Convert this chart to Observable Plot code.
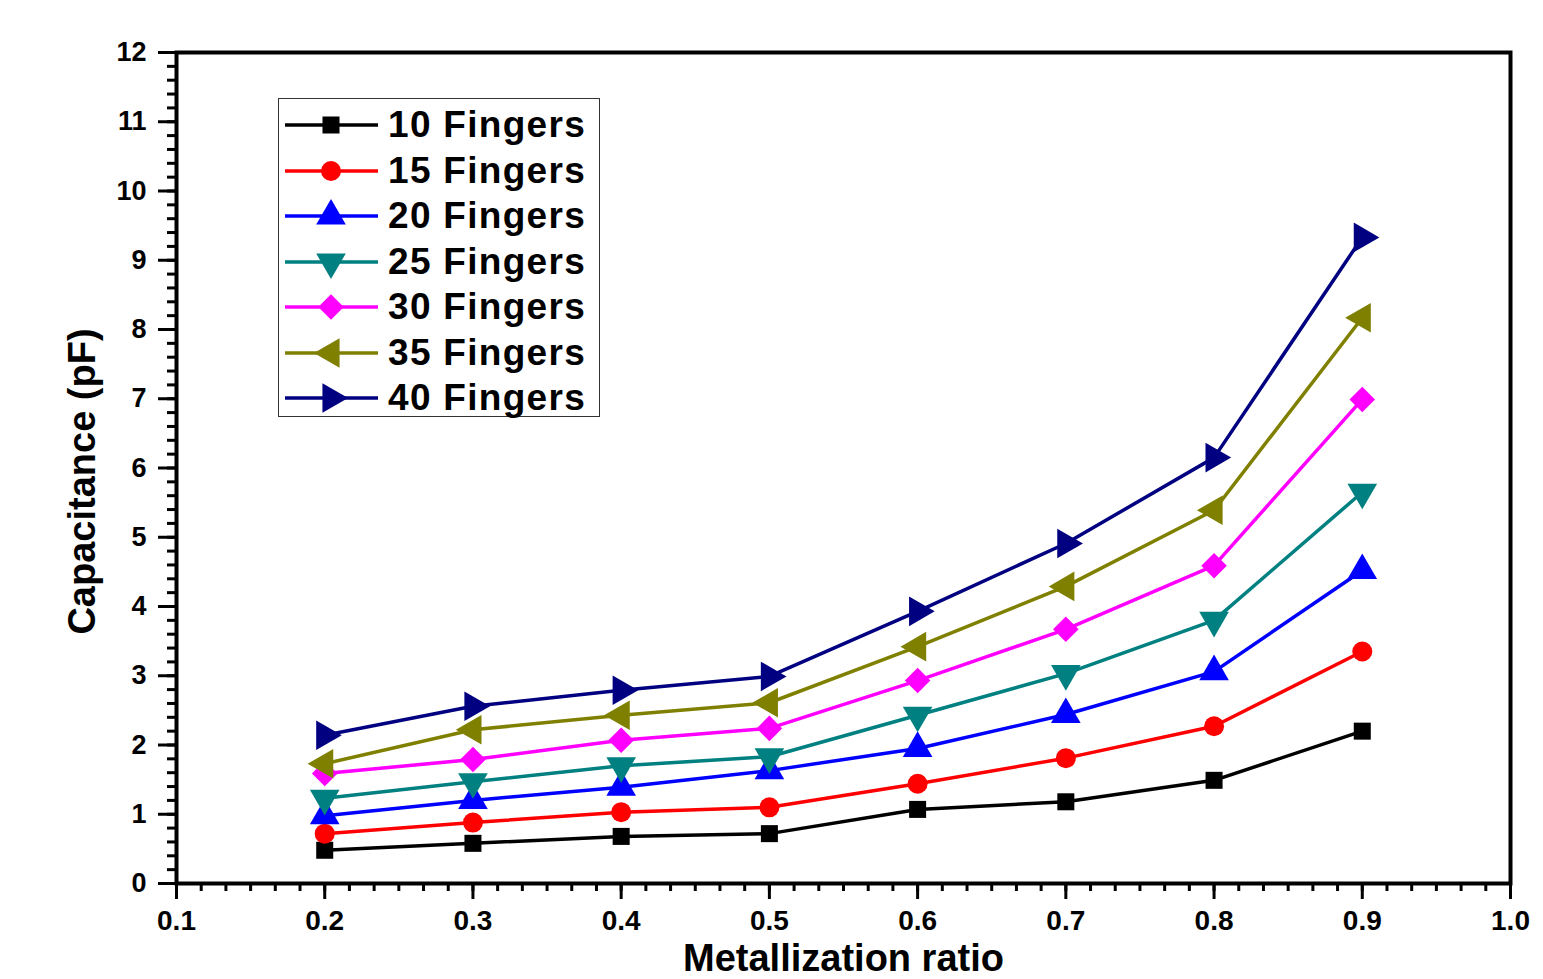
<!DOCTYPE html>
<html>
<head>
<meta charset="utf-8">
<script src="https://cdn.jsdelivr.net/npm/d3@7"></script>
<script src="https://cdn.jsdelivr.net/npm/@observablehq/plot@0.6"></script>
<style>
  html, body { margin: 0; padding: 0; background: #fff; }
  #wrap { position: relative; width: 1543px; height: 979px; font-family: "Liberation Sans", Arial, sans-serif; }
  #legend { position: absolute; left: 278px; top: 98px; width: 320px; height: 317px; border: 1px solid #333; background: #fff; box-sizing: content-box; }
  .row { position: absolute; left: 0; height: 40px; display: flex; align-items: center; }
  .row svg { display: block; }
  .row span { font-weight: bold; font-size: 37px; letter-spacing: 1.3px; margin-left: 4px; color: #000; }
</style>
</head>
<body>
<div id="wrap"></div>
<script>
// ---- data ----
const ratio = [0.2, 0.3, 0.4, 0.5, 0.6, 0.7, 0.8, 0.9];
const seriesNames = ["10 Fingers", "15 Fingers", "20 Fingers", "25 Fingers", "30 Fingers", "35 Fingers", "40 Fingers"];
const fingers10 = [0.48, 0.58, 0.68, 0.72, 1.07, 1.18, 1.49, 2.20];
const fingers15 = [0.72, 0.88, 1.03, 1.10, 1.44, 1.81, 2.27, 3.35];
const fingers20 = [0.98, 1.20, 1.39, 1.63, 1.95, 2.44, 3.06, 4.52];
const fingers25 = [1.23, 1.47, 1.70, 1.83, 2.43, 3.03, 3.80, 5.65];
const fingers30 = [1.59, 1.79, 2.07, 2.24, 2.93, 3.67, 4.59, 6.99];
const fingers35 = [1.73, 2.22, 2.43, 2.61, 3.42, 4.29, 5.39, 8.17];
const fingers40 = [2.14, 2.56, 2.79, 2.99, 3.93, 4.91, 6.15, 9.33];
const yTicks = [0, 1, 2, 3, 4, 5, 6, 7, 8, 9, 10, 11, 12];
const xTicks = [0.1, 0.2, 0.3, 0.4, 0.5, 0.6, 0.7, 0.8, 0.9, 1.0];
const xLabel = "Metallization ratio";
const yLabel = "Capacitance (pF)";

const seriesValues = [fingers10, fingers15, fingers20, fingers25, fingers30, fingers35, fingers40];
const colors = ["#000000", "#ff0000", "#0000ff", "#008080", "#ff00ff", "#808000", "#000080"];

// custom triangle symbols (same geometry as d3.symbolTriangle)
const s3 = Math.sqrt(3);
const triDown = { draw(ctx, size) { const y = -Math.sqrt(size / (s3 * 3)); ctx.moveTo(0, -2 * y); ctx.lineTo(-s3 * y, y); ctx.lineTo(s3 * y, y); ctx.closePath(); } };
const triLeft = { draw(ctx, size) { const y = -Math.sqrt(size / (s3 * 3)); ctx.moveTo(2 * y, 0); ctx.lineTo(-y, s3 * y); ctx.lineTo(-y, -s3 * y); ctx.closePath(); } };
const triRight = { draw(ctx, size) { const y = -Math.sqrt(size / (s3 * 3)); ctx.moveTo(-2 * y, 0); ctx.lineTo(y, s3 * y); ctx.lineTo(y, -s3 * y); ctx.closePath(); } };
const symbols = [d3.symbolSquare, d3.symbolCircle, d3.symbolTriangle, triDown, d3.symbolDiamond2, triLeft, triRight];
const symbolR = [9.6, 10, 11, 11, 11.5, 11, 11];

const data = [];
seriesNames.forEach((name, i) => ratio.forEach((r, j) => data.push({ series: name, idx: i, x: r, y: seriesValues[i][j] })));

const xMinor = d3.range(0, 55).map(k => 0.1 + k / 60);
const yMinor = d3.range(0, 61).map(k => k * 0.2);

const chart = Plot.plot({
  width: 1543,
  height: 979,
  marginLeft: 176,
  marginRight: 33,
  marginTop: 52,
  marginBottom: 96,
  style: { fontFamily: "'Liberation Sans', Arial, sans-serif", fontWeight: "bold", fontSize: "24px", background: "#fff", color: "#000" },
  x: { domain: [0.1, 1.0] },
  y: { domain: [0, 12] },
  color: { domain: seriesNames, range: colors },
  symbol: { domain: seriesNames, range: symbols },
  marks: [
    Plot.axisX({ ticks: xMinor, tickSize: 8, strokeWidth: 3, text: null, label: null }),
    Plot.axisY({ ticks: yMinor, tickSize: 9, strokeWidth: 3, text: null, label: null }),
    Plot.axisX({ ticks: xTicks, tickSize: 16, strokeWidth: 3, text: null, label: null }),
    Plot.axisY({ ticks: yTicks, tickSize: 18, strokeWidth: 3, text: null, label: null }),
    Plot.text(xTicks, { x: d => d, text: d => d3.format(".1f")(d), frameAnchor: "bottom", lineAnchor: "top", dy: 27, fontSize: 28, fontWeight: "bold", fill: "#000", letterSpacing: "1px" }),
    Plot.text(yTicks, { y: d => d, text: d => String(d), frameAnchor: "left", textAnchor: "end", dx: -30, fontSize: 27, fontWeight: "bold", fill: "#000", letterSpacing: "1px" }),
    Plot.frame({ stroke: "#000", strokeWidth: 4 }),
    ...seriesNames.map((name, i) => Plot.line(data.filter(d => d.idx === i), { x: "x", y: "y", stroke: "series", strokeWidth: 3.5 })),
    ...seriesNames.map((name, i) => Plot.dot(data.filter(d => d.idx === i), { x: "x", y: "y", symbol: "series", fill: "series", stroke: "none", r: symbolR[i] })),
    Plot.text([xLabel], { text: d => d, frameAnchor: "bottom", textAnchor: "middle", lineAnchor: "bottom", dy: 87, fontSize: 38, fontWeight: "bold", fill: "#000", letterSpacing: "0.8px" }),
    Plot.text([yLabel], { text: d => d, frameAnchor: "left", textAnchor: "middle", dx: -94, dy: 13.5, rotate: -90, fontSize: 38, fontWeight: "bold", fill: "#000" })
  ]
});
chart.style.position = "absolute";
chart.style.left = "0px";
chart.style.top = "0px";
const wrap = document.getElementById("wrap");
wrap.appendChild(chart);

// legend (HTML overlay, swatches drawn with d3 symbols)
const legend = document.createElement("div");
legend.id = "legend";
seriesNames.forEach((name, i) => {
  const row = document.createElement("div");
  row.className = "row";
  row.style.top = (6 + i * 45.5) + "px";
  const sw = d3.create("svg").attr("width", 105).attr("height", 40);
  sw.append("line").attr("x1", 6).attr("x2", 99).attr("y1", 20).attr("y2", 20).attr("stroke", colors[i]).attr("stroke-width", 3.5);
  sw.append("path").attr("transform", "translate(52,20)").attr("fill", colors[i])
    .attr("d", d3.symbol(symbols[i], Math.PI * symbolR[i] * symbolR[i])());
  row.appendChild(sw.node());
  const label = document.createElement("span");
  label.textContent = name;
  row.appendChild(label);
  legend.appendChild(row);
});
wrap.appendChild(legend);
</script>
</body>
</html>
